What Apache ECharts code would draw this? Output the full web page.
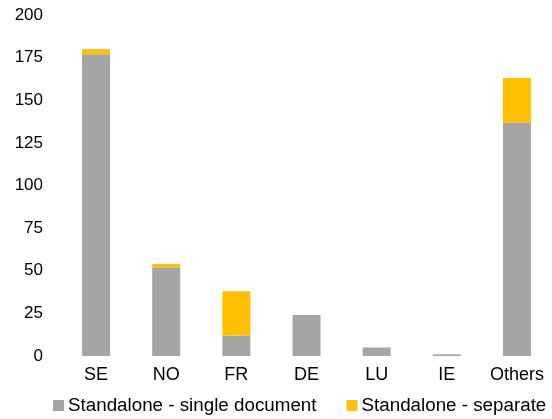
<!DOCTYPE html>
<html lang="en">
<head>
  <meta charset="UTF-8">
  <title>Standalone reports by country</title>
  <style>
    html, body { margin: 0; padding: 0; background: #fff; }
  </style>
</head>
<body>
  <div id="main" style="width: 552px;height:419px;"></div>
  <script src="https://cdn.jsdelivr.net/npm/echarts@6/dist/echarts.min.js"></script>
  <script type="text/javascript">
    // data
    var countries = ['SE', 'NO', 'FR', 'DE', 'LU', 'IE', 'Others'];
    var singleDoc = [177, 52, 12, 24, 5, 1, 137];
    var separate = [3, 2, 26, 0, 0, 0, 26];
    var yTicks = [0, 25, 50, 75, 100, 125, 150, 175, 200];

    var font = 'Liberation Sans, Arial, sans-serif';
    var myChart = echarts.init(document.getElementById('main'));

    var option = {
      animation: false,
      textStyle: { fontFamily: font },
      grid: {
        left: 61,
        right: -2,
        top: 15,
        bottom: 63
      },
      legend: {
        data: ['Standalone - single document', 'Standalone - separate'],
        left: 53,
        bottom: 4,
        width: 530,
        padding: 0,
        itemWidth: 11,
        itemHeight: 11,
        itemGap: 30,
        icon: 'rect',
        textStyle: { fontSize: 18.8, color: '#000', fontFamily: font, padding: [0, 0, 0, -1] }
      },
      xAxis: {
        type: 'category',
        data: countries,
        axisLine: { show: false },
        axisTick: { show: false },
        axisLabel: { interval: 0, fontSize: 18, color: '#000', margin: 10, fontFamily: font }
      },
      yAxis: {
        type: 'value',
        min: yTicks[0],
        max: yTicks[yTicks.length - 1],
        interval: 25,
        splitLine: { show: false },
        axisLine: { show: false },
        axisTick: { show: false },
        axisLabel: { fontSize: 17, color: '#000', margin: 18, fontFamily: font }
      },
      series: [
        {
          name: 'Standalone - single document',
          type: 'bar',
          stack: 'total',
          barWidth: 28,
          itemStyle: { color: '#A5A5A5' },
          data: singleDoc
        },
        {
          name: 'Standalone - separate',
          type: 'bar',
          stack: 'total',
          barWidth: 28,
          itemStyle: { color: '#FFC000' },
          data: separate
        }
      ]
    };

    myChart.setOption(option);
  </script>
</body>
</html>
